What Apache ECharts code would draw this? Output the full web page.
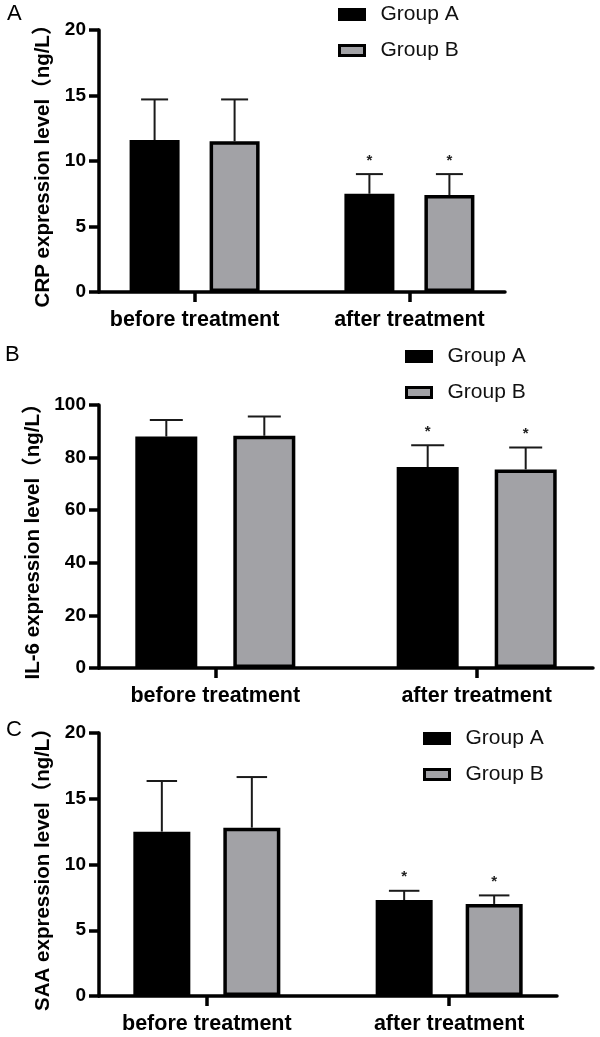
<!DOCTYPE html>
<html>
<head>
<meta charset="utf-8">
<script src="https://cdn.jsdelivr.net/npm/echarts@6/dist/echarts.min.js"></script>
<style>html,body{margin:0;padding:0;background:#fff}#c{width:600px;height:1037px}</style>
</head>
<body>
<div id="c"></div>
<script>
// ---- data ----
const categories = ['before treatment', 'after treatment'];
const groups = ['Group A', 'Group B'];
const significant = [0, 1];

const crpTitle = 'CRP expression level（ng/L）';
const crpA = [11.6, 7.5];
const crpAsd = [3.1, 1.5];
const crpB = [11.5, 7.4];
const crpBsd = [3.2, 1.6];
const crpTicks = [0, 20, 5];

const il6Title = 'IL-6 expression level（ng/L）';
const il6A = [88.0, 76.4];
const il6Asd = [6.3, 8.3];
const il6B = [88.3, 75.5];
const il6Bsd = [7.3, 8.3];
const il6Ticks = [0, 100, 20];

const saaTitle = 'SAA expression level（ng/L）';
const saaA = [12.5, 7.3];
const saaAsd = [3.85, 0.7];
const saaB = [12.8, 7.0];
const saaBsd = [3.85, 0.65];
const saaTicks = [0, 20, 5];

// ---- layout ----
const FONT = '"Liberation Sans", Arial, "Noto Sans CJK SC", sans-serif';
const groupColors = ['#000', '#a2a2a6'];
const panels = [
  {title: crpTitle, A: crpA, Asd: crpAsd, B: crpB, Bsd: crpBsd, ticks: crpTicks, letter: 'A',
   grid: {left: 99, top: 30, width: 406, height: 262}, barWidth: 50, gap: 30, nameGap: 41,
   legend: {left: 338, top: 4}, letterPos: {left: 7, top: 3}},
  {title: il6Title, A: il6A, Asd: il6Asd, B: il6B, Bsd: il6Bsd, ticks: il6Ticks, letter: 'B',
   grid: {left: 99, top: 405, width: 494, height: 263}, barWidth: 62, gap: 36, nameGap: 54,
   legend: {left: 405, top: 346}, letterPos: {left: 5, top: 344}},
  {title: saaTitle, A: saaA, Asd: saaAsd, B: saaB, Bsd: saaBsd, ticks: saaTicks, letter: 'C',
   grid: {left: 99, top: 733, width: 458, height: 263}, barWidth: 57, gap: 33, nameGap: 45,
   legend: {left: 423, top: 728}, letterPos: {left: 6, top: 719}}
];

const grid = [], xAxis = [], yAxis = [], series = [], legend = [], title = [];

function errRenderer(offsetPx, capHalf) {
  return function (params, api) {
    const x = api.value(0), m = api.value(1), sd = api.value(2), star = api.value(3);
    const base = api.coord([x, m]);
    const top = api.coord([x, m + sd]);
    const cx = base[0] + offsetPx;
    const lineStyle = {stroke: '#1a1a1a', lineWidth: 2};
    const children = [
      {type: 'line', shape: {x1: cx, y1: base[1], x2: cx, y2: top[1]}, style: lineStyle},
      {type: 'line', shape: {x1: cx - capHalf, y1: top[1], x2: cx + capHalf, y2: top[1]}, style: lineStyle}
    ];
    if (star) {
      children.push({type: 'text', x: cx, y: top[1] - 6,
        style: {text: '*', fill: '#222', font: 'bold 15px ' + FONT, textAlign: 'center', textVerticalAlign: 'bottom'}});
    }
    return {type: 'group', children: children};
  };
}

panels.forEach((p, i) => {
  grid.push(Object.assign({containLabel: false}, p.grid));
  xAxis.push({
    type: 'value', gridIndex: i, min: -0.445, max: 1.445,
    axisLine: {onZero: false, lineStyle: {color: '#000', width: 3.5}},
    axisTick: {customValues: [0, 1], length: 10, lineStyle: {color: '#000', width: 3.5}},
    axisLabel: {customValues: [0, 1], formatter: v => categories[Math.round(v)] || '',
      color: '#000', fontFamily: FONT, fontWeight: 'bold', fontSize: 21.5, margin: 17},
    splitLine: {show: false}
  });
  yAxis.push({
    type: 'value', gridIndex: i, min: p.ticks[0], max: p.ticks[1], interval: p.ticks[2],
    name: p.title, nameLocation: 'middle', nameGap: p.nameGap,
    nameTextStyle: {color: '#000', fontFamily: FONT, fontWeight: 'bold', fontSize: 20.5},
    axisLine: {show: true, onZero: false, lineStyle: {color: '#000', width: 3.5}},
    axisTick: {show: true, length: 10, lineStyle: {color: '#000', width: 3.5}},
    axisLabel: {color: '#000', fontFamily: FONT, fontWeight: 'bold', fontSize: 19, margin: 13},
    splitLine: {show: false}
  });
  const gapPct = (p.gap / p.barWidth * 100).toFixed(1) + '%';
  [p.A, p.B].forEach((vals, g) => {
    series.push({
      type: 'bar', name: groups[g], xAxisIndex: i, yAxisIndex: i,
      barWidth: p.barWidth, barGap: gapPct,
      itemStyle: {color: groupColors[g], borderColor: '#000', borderWidth: 3.5},
      data: vals.map((v, k) => [k, v])
    });
  });
  const off = (p.barWidth + p.gap) / 2;
  [[p.A, p.Asd, -off], [p.B, p.Bsd, off]].forEach(([vals, sds, o], g) => {
    series.push({
      type: 'custom', name: groups[g] + ' SD ' + i, xAxisIndex: i, yAxisIndex: i, z: 5,
      renderItem: errRenderer(o, p.barWidth / 4 + 1),
      data: vals.map((v, k) => [k, v, sds[k], significant[k]])
    });
  });
  legend.push({
    data: groups.map((g, k) => ({name: g, icon: 'rect',
      itemStyle: {color: groupColors[k], borderColor: '#000', borderWidth: 3}})),
    orient: 'vertical', left: p.legend.left, top: p.legend.top, padding: 0,
    itemWidth: 25, itemHeight: 10, itemGap: 15, selectedMode: false,
    textStyle: {color: '#111', fontFamily: FONT, fontSize: 21, lineHeight: 21, padding: [0, 0, 0, 11]}
  });
  title.push({text: p.letter, left: p.letterPos.left, top: p.letterPos.top, padding: 0,
    textStyle: {color: '#000', fontFamily: FONT, fontWeight: 'normal', fontSize: 22}});
});

const chart = echarts.init(document.getElementById('c'), null, {renderer: 'canvas'});
chart.setOption({animation: false, backgroundColor: '#fff', title, legend, grid, xAxis, yAxis, series});
</script>
</body>
</html>
